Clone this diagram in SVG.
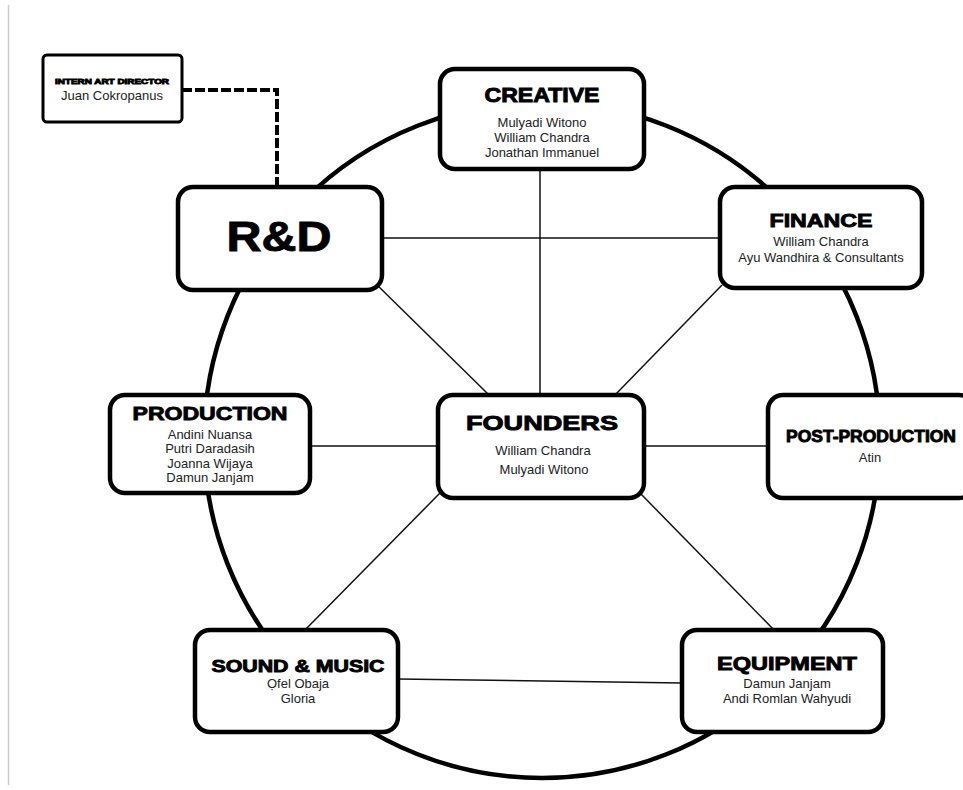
<svg xmlns="http://www.w3.org/2000/svg" width="963" height="790" viewBox="0 0 963 790">
<style>
.box{fill:#fff;stroke:#000;stroke-width:4.5}
.conn{stroke:#111;stroke-width:1.5;fill:none}
.t{font-family:"Liberation Sans",Arial,sans-serif;font-weight:bold;fill:#000;stroke:#000;stroke-width:0.9;text-anchor:middle}
.n{font-family:"Liberation Sans",Arial,sans-serif;font-size:13px;fill:#222;text-anchor:middle}
</style>
<rect x="0" y="0" width="963" height="790" fill="#fff"/>
<line x1="8.5" y1="5" x2="8.5" y2="785" stroke="#ccc" stroke-width="1.5"/>
<circle cx="542" cy="440" r="338" fill="none" stroke="#000" stroke-width="4.5"/>
<g id="connectors">
<line class="conn" x1="540" y1="170" x2="540" y2="395"/>
<line class="conn" x1="382" y1="238" x2="720" y2="238"/>
<line class="conn" x1="372" y1="280" x2="490" y2="396"/>
<line class="conn" x1="722" y1="285" x2="615" y2="395"/>
<line class="conn" x1="310" y1="446" x2="438" y2="446"/>
<line class="conn" x1="645" y1="446" x2="768" y2="446"/>
<line class="conn" x1="440" y1="493" x2="303" y2="632"/>
<line class="conn" x1="640" y1="493" x2="776" y2="632"/>
<line class="conn" x1="398" y1="679" x2="682" y2="683"/>
<path d="M182 90 H277 V186" fill="none" stroke="#000" stroke-width="4" stroke-dasharray="10 3"/>
</g>
<g id="intern">
<rect x="43" y="55" width="139" height="67" rx="4" fill="#fff" stroke="#000" stroke-width="3"/>
<text class="t" x="112" y="84" font-size="8" textLength="114" lengthAdjust="spacingAndGlyphs" stroke-width="0.4">INTERN ART DIRECTOR</text>
<text class="n" x="112" y="100" font-size="12">Juan Cokropanus</text>
</g>
<g id="creative">
<rect class="box" x="440" y="69" width="204" height="100" rx="15"/>
<text class="t" x="542" y="102" font-size="20" textLength="115" lengthAdjust="spacingAndGlyphs">CREATIVE</text>
<text class="n" x="542" y="127">Mulyadi Witono</text>
<text class="n" x="542" y="142">William Chandra</text>
<text class="n" x="542" y="157">Jonathan Immanuel</text>
</g>
<g id="rnd">
<rect class="box" x="178" y="187" width="204" height="103" rx="15"/>
<text class="t" x="279" y="251" font-size="43" textLength="105" lengthAdjust="spacingAndGlyphs" stroke-width="1.8">R&amp;D</text>
</g>
<g id="finance">
<rect class="box" x="720" y="187" width="202" height="101" rx="15"/>
<text class="t" x="821" y="227" font-size="19" textLength="103" lengthAdjust="spacingAndGlyphs">FINANCE</text>
<text class="n" x="821" y="246">William Chandra</text>
<text class="n" x="821" y="262">Ayu Wandhira &amp; Consultants</text>
</g>
<g id="production">
<rect class="box" x="110" y="395" width="200" height="98" rx="15"/>
<text class="t" x="210" y="420" font-size="19" textLength="155" lengthAdjust="spacingAndGlyphs">PRODUCTION</text>
<text class="n" x="210" y="439">Andini Nuansa</text>
<text class="n" x="210" y="453">Putri Daradasih</text>
<text class="n" x="210" y="468">Joanna Wijaya</text>
<text class="n" x="210" y="482">Damun Janjam</text>
</g>
<g id="founders">
<rect class="box" x="438" y="395" width="206" height="103" rx="15"/>
<text class="t" x="542" y="430" font-size="21" textLength="152" lengthAdjust="spacingAndGlyphs">FOUNDERS</text>
<text class="n" x="543" y="455" font-size="15.5">William Chandra</text>
<text class="n" x="544" y="474" font-size="15.5">Mulyadi Witono</text>
</g>
<g id="postproduction">
<rect class="box" x="768" y="395" width="206" height="103" rx="15"/>
<text class="t" x="871" y="442" font-size="16.5" textLength="170" lengthAdjust="spacingAndGlyphs">POST-PRODUCTION</text>
<text class="n" x="870" y="462">Atin</text>
</g>
<g id="soundmusic">
<rect class="box" x="195" y="630" width="203" height="102" rx="15"/>
<text class="t" x="298" y="672" font-size="17" textLength="173" lengthAdjust="spacingAndGlyphs">SOUND &amp; MUSIC</text>
<text class="n" x="298" y="688">Ọfel Obaja</text>
<text class="n" x="298" y="703">Gloria</text>
</g>
<g id="equipment">
<rect class="box" x="682" y="630" width="201" height="102" rx="15"/>
<text class="t" x="787" y="670" font-size="18.5" textLength="140" lengthAdjust="spacingAndGlyphs">EQUIPMENT</text>
<text class="n" x="787" y="688">Damun Janjam</text>
<text class="n" x="787" y="703">Andi Romlan Wahyudi</text>
</g>
</svg>
